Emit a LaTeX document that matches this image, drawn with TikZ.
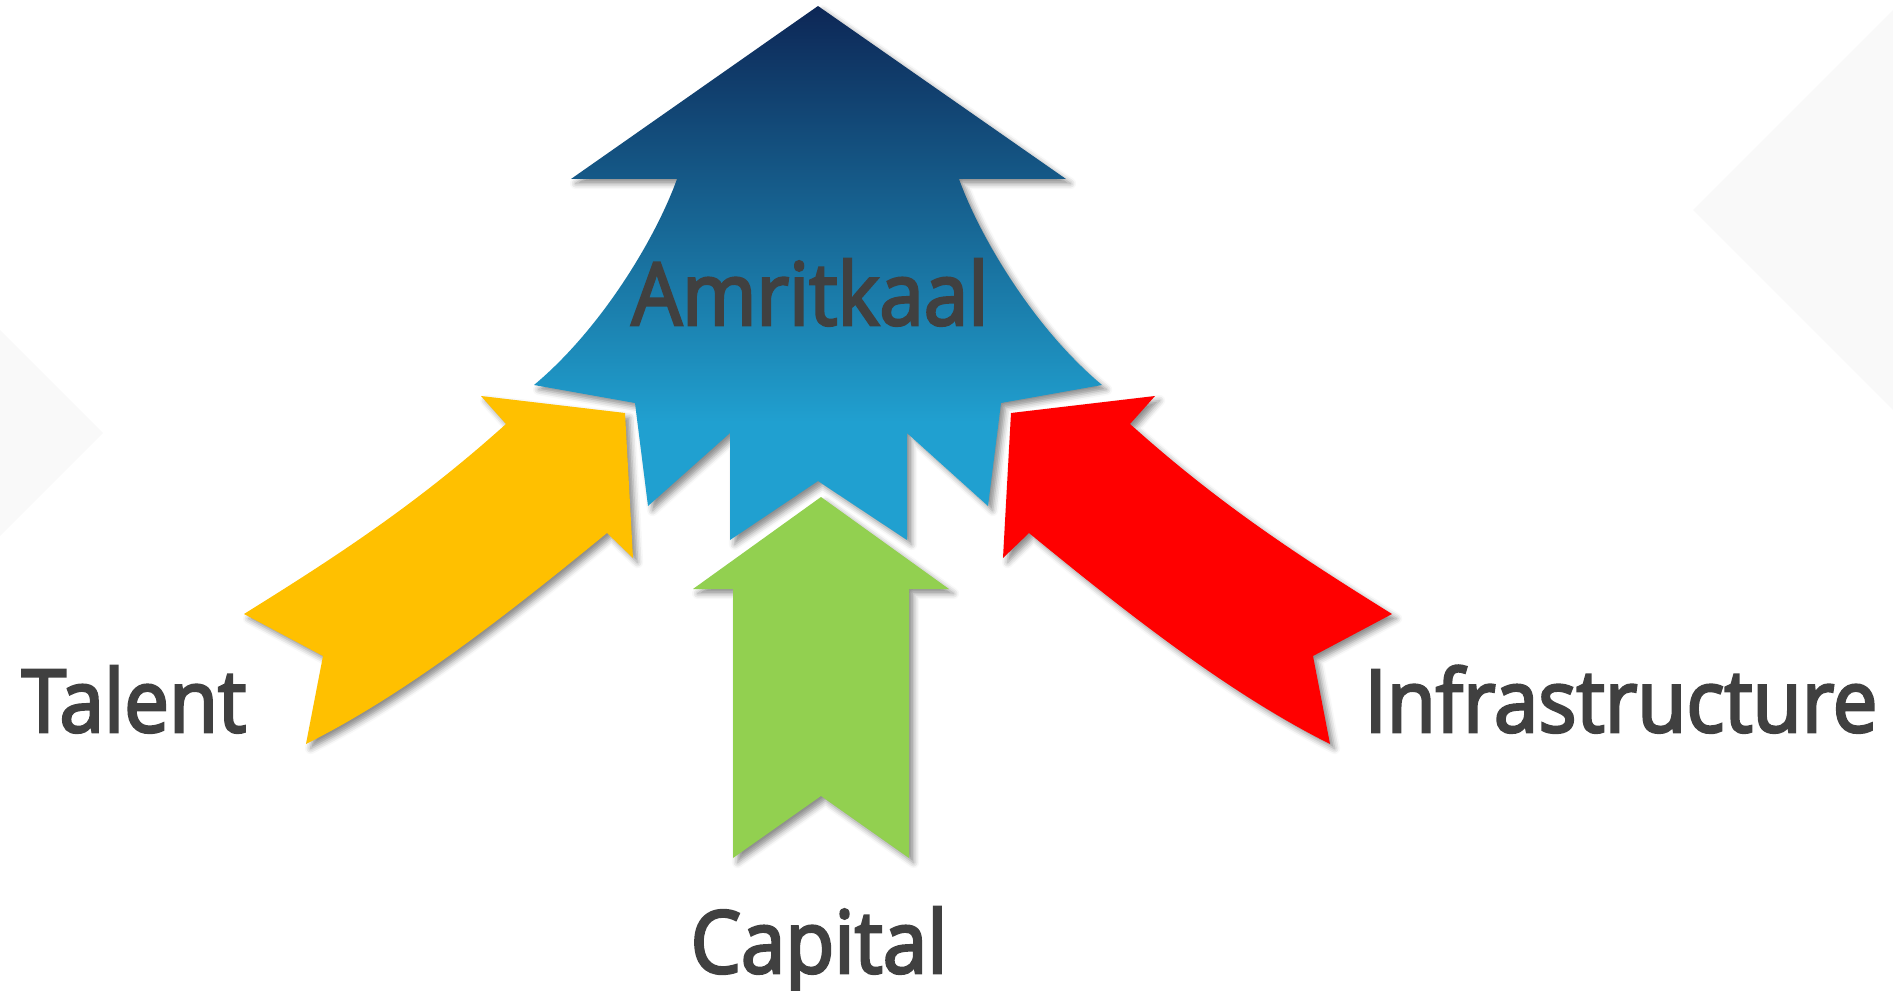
\documentclass[tikz,border=0pt]{standalone}
\usepackage{fontspec}
\usepackage{xcolor}
\usepackage{tikz}
\usetikzlibrary{shadows.blur}
\newfontfamily\tagfont[FakeBold=3, FakeStretch=0.92]{Open Sans}

\definecolor{amdark}{RGB}{13,39,86}
\definecolor{ammid}{RGB}{27,126,172}
\definecolor{ampale}{RGB}{32,160,208}
\definecolor{talentyellow}{RGB}{255,192,0}
\definecolor{capitalgreen}{RGB}{146,208,80}
\definecolor{infrared}{RGB}{255,0,0}
\definecolor{labelgray}{RGB}{64,64,64}
\definecolor{backdrop}{RGB}{249,249,249}

% dark navy at the tip, fading to light blue towards the feet
\pgfdeclareverticalshading{amritshade}{100bp}{color(0bp)=(ampale); color(36bp)=(ampale); color(47bp)=(ammid); color(75bp)=(amdark); color(100bp)=(amdark)}

\tikzset{ % global config
    x=0.01cm, y=-0.01cm, % one unit per pixel, y grows downwards
    bigarrow/.style={blur shadow={shadow xshift=1.3pt, shadow yshift=-1.3pt, shadow blur radius=1.6pt, shadow opacity=45}},
    tag/.style={font=\tagfont\fontsize{24.7}{30}\selectfont, text=labelgray, inner sep=0pt, anchor=base},
}

\begin{document}
\begin{tikzpicture}

	\useasboundingbox (0,0) rectangle (1893,991);
	\clip (0,0) rectangle (1893,991);

	% faint diamonds behind everything
	\fill[backdrop] (103,433) -- (-300,30) -- (-300,836) -- cycle;
	\fill[backdrop] (1693,210) -- (2100,-197) -- (2100,617) -- cycle;

	% main arrow
	\shade[bigarrow, shading=amritshade]
		(818,6) -- (1066,179) -- (959,179) .. controls (981,240) and (1036,330) .. (1102,385)
		-- (1001,403) -- (988,506) -- (907,433) -- (907,540) -- (818,481) -- (730,540) -- (730,433)
		-- (648,506) -- (635,403) -- (534,385) .. controls (600,330) and (655,240) .. (677,179)
		-- (571,179) -- cycle;

	% straight arrow from below
	\fill[bigarrow, capitalgreen] (821,497) -- (949,589) -- (909,589) -- (909,858) -- (821,796)
		-- (733,858) -- (733,589) -- (693,589) -- cycle;

	% bent arrows from the sides
	\fill[bigarrow, talentyellow] (244,614) -- (323,656) -- (306,744) .. controls (406,694) and (507,615) .. (607,533)
		-- (633,558) -- (625,413) -- (481,396) -- (506,424) .. controls (416,505) and (334,558) .. (244,614) -- cycle;
	\fill[bigarrow, infrared] (1392,614) -- (1313,656) -- (1330,744) .. controls (1230,694) and (1129,615) .. (1029,533)
		-- (1003,558) -- (1011,413) -- (1155,396) -- (1130,424) .. controls (1220,505) and (1302,558) .. (1392,614) -- cycle;

	\node[tag] (amritkaal) at (810,325) {Amritkaal};
	\node[tag] (talent) at (134,732) {Talent};
	\node[tag] (capital) at (819,973) {Capital};
	\node[tag] (infra) at (1621,732) {Infrastructure};

\end{tikzpicture}
\end{document}
